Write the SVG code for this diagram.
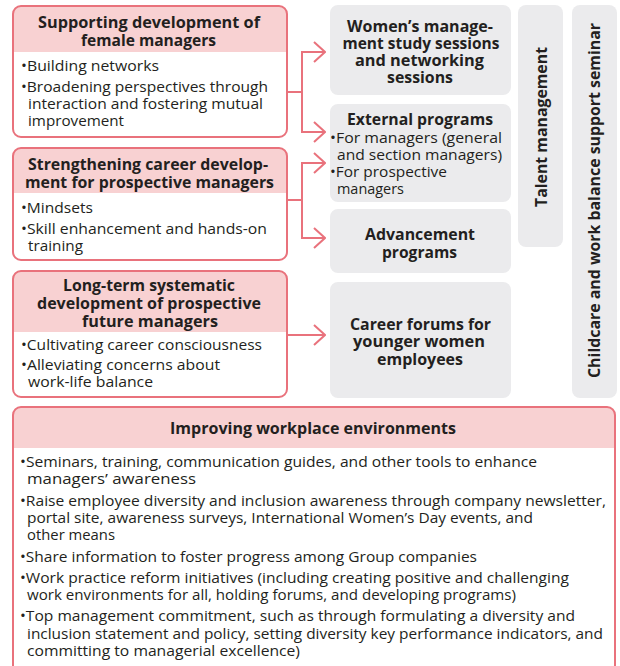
<svg xmlns="http://www.w3.org/2000/svg" width="620" height="666" viewBox="0 0 620 666">
<style>
.frame{fill:none;stroke:#e9727c;stroke-width:2}
.body{fill:#ffffff}
.head{fill:#f8d1d2}
.gray{fill:#ebebed}
.h{font-family:"Open Sans","Noto Sans",sans-serif;font-weight:bold;font-size:15.5px;fill:#231f20;text-anchor:middle}
.t{font-family:"Open Sans","Noto Sans",sans-serif;font-size:14.5px;fill:#231f20}
.b{font-family:"Open Sans","Noto Sans",sans-serif;font-size:14.5px;fill:#231f20}
.con{fill:none;stroke:#e9727c;stroke-width:2}
</style>
<defs>
<marker id="arr" markerUnits="userSpaceOnUse" viewBox="0 0 13 22" refX="12" refY="11" markerWidth="13" markerHeight="22" orient="auto">
<path d="M1,1 L12,11 L1,21" fill="none" stroke="#e9727c" stroke-width="2"/>
</marker>
</defs>
<rect width="620" height="666" fill="#ffffff"/>

<g id="box-female">
<rect class="body" x="13" y="6" width="274" height="131" rx="8"/>
<path class="head" d="M13,52 V14 Q13,6 21,6 H279 Q287,6 287,14 V52 Z"/>
<rect class="frame" x="13" y="6" width="274" height="131" rx="8"/>
<text class="h" x="149" y="28" textLength="222" lengthAdjust="spacingAndGlyphs">Supporting development of</text>
<text class="h" x="148.5" y="46" textLength="135" lengthAdjust="spacingAndGlyphs">female managers</text>
<text class="t" x="21" y="71" textLength="138" lengthAdjust="spacingAndGlyphs">•Building networks</text>
<text class="t" x="21" y="92" textLength="247" lengthAdjust="spacingAndGlyphs">•Broadening perspectives through</text>
<text class="t" x="28" y="109" textLength="235" lengthAdjust="spacingAndGlyphs">interaction and fostering mutual</text>
<text class="t" x="28" y="126" textLength="96" lengthAdjust="spacingAndGlyphs">improvement</text>
</g>

<g id="box-prospective">
<rect class="body" x="13" y="148" width="274" height="112" rx="8"/>
<path class="head" d="M13,193 V156 Q13,148 21,148 H279 Q287,148 287,156 V193 Z"/>
<rect class="frame" x="13" y="148" width="274" height="112" rx="8"/>
<text class="h" x="148" y="170" textLength="240" lengthAdjust="spacingAndGlyphs">Strengthening career develop-</text>
<text class="h" x="149.5" y="188" textLength="249" lengthAdjust="spacingAndGlyphs">ment for prospective managers</text>
<text class="t" x="21" y="213" textLength="72" lengthAdjust="spacingAndGlyphs">•Mindsets</text>
<text class="t" x="21" y="234" textLength="246" lengthAdjust="spacingAndGlyphs">•Skill enhancement and hands-on</text>
<text class="t" x="28" y="251" textLength="55" lengthAdjust="spacingAndGlyphs">training</text>
</g>

<g id="box-longterm">
<rect class="body" x="13" y="271" width="274" height="126" rx="8"/>
<path class="head" d="M13,332 V279 Q13,271 21,271 H279 Q287,271 287,279 V332 Z"/>
<rect class="frame" x="13" y="271" width="274" height="126" rx="8"/>
<text class="h" x="149" y="291" textLength="172" lengthAdjust="spacingAndGlyphs">Long-term systematic</text>
<text class="h" x="149" y="309" textLength="224" lengthAdjust="spacingAndGlyphs">development of prospective</text>
<text class="h" x="150" y="327" textLength="136" lengthAdjust="spacingAndGlyphs">future managers</text>
<text class="t" x="21" y="350" textLength="241" lengthAdjust="spacingAndGlyphs">•Cultivating career consciousness</text>
<text class="t" x="21" y="370" textLength="199" lengthAdjust="spacingAndGlyphs">•Alleviating concerns about</text>
<text class="t" x="28" y="387" textLength="125" lengthAdjust="spacingAndGlyphs">work-life balance</text>
</g>

<g id="box-study">
<rect class="gray" x="330" y="5" width="181" height="90" rx="8"/>
<text class="h" x="420" y="32" textLength="146" lengthAdjust="spacingAndGlyphs">Women’s manage-</text>
<text class="h" x="421" y="49" textLength="157" lengthAdjust="spacingAndGlyphs">ment study sessions</text>
<text class="h" x="419.5" y="66" textLength="129" lengthAdjust="spacingAndGlyphs">and networking</text>
<text class="h" x="420" y="83" textLength="66" lengthAdjust="spacingAndGlyphs">sessions</text>
</g>

<g id="box-external">
<rect class="gray" x="330" y="104" width="181" height="98" rx="8"/>
<text class="h" x="420" y="125" textLength="146" lengthAdjust="spacingAndGlyphs">External programs</text>
<text class="t" x="330" y="143" textLength="172" lengthAdjust="spacingAndGlyphs">•For managers (general</text>
<text class="t" x="337" y="160" textLength="165" lengthAdjust="spacingAndGlyphs">and section managers)</text>
<text class="t" x="330" y="177" textLength="117" lengthAdjust="spacingAndGlyphs">•For prospective</text>
<text class="t" x="337" y="194" textLength="67" lengthAdjust="spacingAndGlyphs">managers</text>
</g>

<g id="box-advancement">
<rect class="gray" x="330" y="209" width="181" height="64" rx="8"/>
<text class="h" x="420" y="240" textLength="110" lengthAdjust="spacingAndGlyphs">Advancement</text>
<text class="h" x="419.5" y="258" textLength="75" lengthAdjust="spacingAndGlyphs">programs</text>
</g>

<g id="box-forums">
<rect class="gray" x="330" y="282" width="181" height="116" rx="8"/>
<text class="h" x="420.5" y="330" textLength="141" lengthAdjust="spacingAndGlyphs">Career forums for</text>
<text class="h" x="419" y="347" textLength="132" lengthAdjust="spacingAndGlyphs">younger women</text>
<text class="h" x="420" y="365" textLength="86" lengthAdjust="spacingAndGlyphs">employees</text>
</g>

<g id="col-talent">
<rect class="gray" x="518" y="5" width="45" height="242" rx="8"/>
<text class="h" transform="translate(547,127) rotate(-90)" x="0" y="0" textLength="160" lengthAdjust="spacingAndGlyphs">Talent management</text>
</g>

<g id="col-childcare">
<rect class="gray" x="572" y="5" width="45" height="393" rx="8"/>
<text class="h" transform="translate(600,200.5) rotate(-90)" x="0" y="0" textLength="355" lengthAdjust="spacingAndGlyphs">Childcare and work balance support seminar</text>
</g>

<g id="box-workplace">
<rect class="body" x="13" y="407" width="602" height="266" rx="8"/>
<path class="head" d="M13,448 V415 Q13,407 21,407 H607 Q615,407 615,415 V448 Z"/>
<rect class="frame" x="13" y="407" width="602" height="266" rx="8"/>
<text class="h" x="313" y="434" textLength="286" lengthAdjust="spacingAndGlyphs">Improving workplace environments</text>
<text class="b" x="20" y="467" textLength="517" lengthAdjust="spacingAndGlyphs">•Seminars, training, communication guides, and other tools to enhance</text>
<text class="b" x="27" y="484" textLength="169" lengthAdjust="spacingAndGlyphs">managers’ awareness</text>
<text class="b" x="20" y="506" textLength="586" lengthAdjust="spacingAndGlyphs">•Raise employee diversity and inclusion awareness through company newsletter,</text>
<text class="b" x="27" y="523" textLength="506" lengthAdjust="spacingAndGlyphs">portal site, awareness surveys, International Women’s Day events, and</text>
<text class="b" x="27" y="540" textLength="88" lengthAdjust="spacingAndGlyphs">other means</text>
<text class="b" x="20" y="562" textLength="457" lengthAdjust="spacingAndGlyphs">•Share information to foster progress among Group companies</text>
<text class="b" x="20" y="583" textLength="549" lengthAdjust="spacingAndGlyphs">•Work practice reform initiatives (including creating positive and challenging</text>
<text class="b" x="27" y="600" textLength="489" lengthAdjust="spacingAndGlyphs">work environments for all, holding forums, and developing programs)</text>
<text class="b" x="20" y="621" textLength="555" lengthAdjust="spacingAndGlyphs">•Top management commitment, such as through formulating a diversity and</text>
<text class="b" x="27" y="639" textLength="576" lengthAdjust="spacingAndGlyphs">inclusion statement and policy, setting diversity key performance indicators, and</text>
<text class="b" x="27" y="656" textLength="273" lengthAdjust="spacingAndGlyphs">committing to managerial excellence)</text>
</g>

<g id="connectors">
<path class="con" d="M287,92 H302 M302,52 V132"/>
<path class="con" d="M301,52 H325" marker-end="url(#arr)"/>
<path class="con" d="M301,132 H325" marker-end="url(#arr)"/>
<path class="con" d="M287,200 H302 M302,163 V238"/>
<path class="con" d="M301,163 H325" marker-end="url(#arr)"/>
<path class="con" d="M301,238 H325" marker-end="url(#arr)"/>
<path class="con" d="M287,335 H325" marker-end="url(#arr)"/>
</g>
</svg>
